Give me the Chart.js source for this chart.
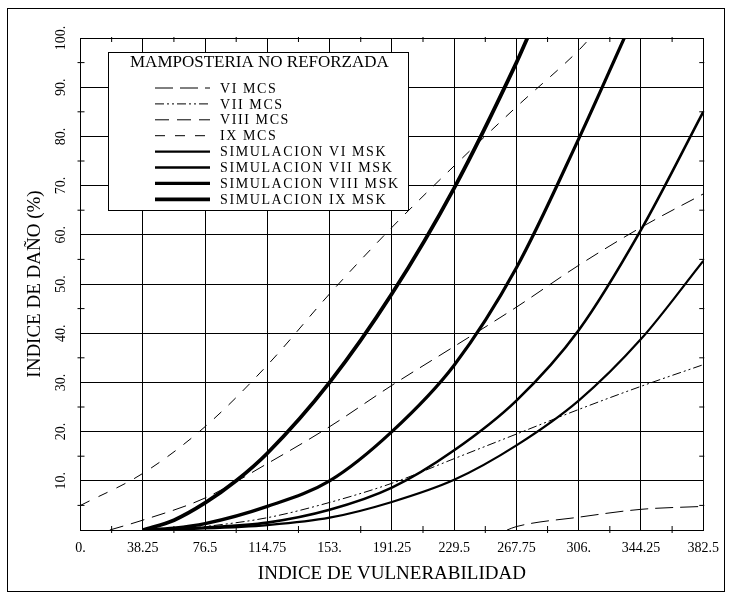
<!DOCTYPE html>
<html>
<head>
<meta charset="utf-8">
<script src="https://cdn.jsdelivr.net/npm/chart.js@4.4.1/dist/chart.umd.min.js"></script>
<style>
  html, body { margin: 0; padding: 0; background: #fff; }
  #wrap { width: 729px; height: 597px; }
</style>
</head>
<body>
<div id="wrap"><canvas id="damageChart" width="729" height="597"></canvas></div>
<script>
// Tick values and labels
const xTicks = [0, 38.25, 76.5, 114.75, 153, 191.25, 229.5, 267.75, 306, 344.25, 382.5];
const xTickLabels = ['0.', '38.25', '76.5', '114.75', '153.', '191.25', '229.5', '267.75', '306.', '344.25', '382.5'];
const yTicks = [10, 20, 30, 40, 50, 60, 70, 80, 90, 100];
const yTickLabels = ['10.', '20.', '30.', '40.', '50.', '60.', '70.', '80.', '90.', '100.'];

// MCS curves
const mcs6X = [262, 267.75, 306, 344.25, 382.5];
const mcs6Y = [0, 0.7, 2.6, 4.2, 4.8];
const mcs7X = [55, 76.5, 114.75, 153, 191.25, 229.5, 267.75, 306, 344.25, 382.5];
const mcs7Y = [0, 0.7, 2.5, 5.6, 9.5, 14.5, 19.5, 24.5, 29.2, 33.6];
const mcs8X = [18, 38.25, 76.5, 114.75, 153, 191.25, 229.5, 267.75, 306, 344.25, 382.5];
const mcs8Y = [0, 2, 6.5, 13.5, 21, 29.4, 37.3, 45.3, 53.8, 61.5, 68.3];
const mcs9X = [0, 38.25, 76.5, 114.75, 153, 191.25, 229.5, 267.75, 306, 313];
const mcs9Y = [5, 11.5, 21, 33.5, 48, 61.5, 74, 86, 97.5, 100];

// Simulation MSK curves
const simX = [38.25, 76.5, 114.75, 153, 191.25, 229.5, 267.75, 306, 344.25, 382.5];
const sim6Y = [0, 0.3, 1.0, 2.5, 5.7, 10.2, 17.2, 26.3, 38.8, 54.7];
const sim7Y = [0, 0.5, 1.5, 4.1, 8.6, 16.2, 26.3, 40.6, 61, 85];
const sim8X = [38.25, 57.4, 76.5, 114.75, 153, 191.25, 229.5, 267.75, 306, 334];
const sim8Y = [0, 0.4, 1.3, 4.8, 10, 20, 33.5, 53.3, 79.5, 100];
const sim9X = [38.25, 57.4, 76.5, 95.6, 114.75, 153, 191.25, 229.5, 267.75, 274.5];
const sim9Y = [0, 2, 5.5, 10, 15.6, 30, 48, 69.5, 95, 100];

function pts(xs, ys) {
    return xs.map((x, i) => ({ x: x, y: ys[i] }));
}

function line(label, xs, ys, width, dash) {
    return {
        label: label,
        data: pts(xs, ys),
        showLine: true,
        borderColor: '#000',
        borderWidth: width,
        borderDash: dash,
        pointRadius: 0,
        fill: false,
        cubicInterpolationMode: 'monotone'
    };
}

const serif = '"Liberation Serif", "DejaVu Serif", serif';

// white background, frame, rotated y labels, minor ticks and the boxed legend
const decorPlugin = {
    id: 'decor',
    beforeDraw(chart) {
        const ctx = chart.ctx;
        ctx.save();
        ctx.fillStyle = '#fff';
        ctx.fillRect(0, 0, chart.width, chart.height);
        ctx.restore();
    },
    afterDraw(chart) {
        const ctx = chart.ctx;
        const xs = chart.scales.x;
        const ys = chart.scales.y;
        const a = chart.chartArea;
        ctx.save();

        // outer frame
        ctx.strokeStyle = '#000';
        ctx.lineWidth = 1;
        ctx.strokeRect(7.5, 8.5, 717, 583);

        // minor ticks
        ctx.beginPath();
        for (let v = 5; v < 100; v += 10) {
            const py = ys.getPixelForValue(v);
            ctx.moveTo(a.left - 3, py); ctx.lineTo(a.left + 4, py);
            ctx.moveTo(a.right - 4, py); ctx.lineTo(a.right + 1, py);
        }
        for (let i = 0; i < xTicks.length - 1; i++) {
            const px = xs.getPixelForValue((xTicks[i] + xTicks[i + 1]) / 2);
            ctx.moveTo(px, a.bottom + 3); ctx.lineTo(px, a.bottom - 4);
            ctx.moveTo(px, a.top - 1); ctx.lineTo(px, a.top + 4);
        }
        ctx.stroke();

        // rotated y tick labels
        ctx.fillStyle = '#000';
        ctx.font = '14px ' + serif;
        ctx.textAlign = 'center';
        ctx.textBaseline = 'middle';
        yTicks.forEach((v, i) => {
            ctx.save();
            ctx.translate(61, ys.getPixelForValue(v));
            ctx.rotate(-Math.PI / 2);
            ctx.fillText(yTickLabels[i], 0, 0);
            ctx.restore();
        });

        // legend box
        const bx = 108.5, by = 52.5, bw = 300, bh = 158;
        ctx.fillStyle = '#fff';
        ctx.fillRect(bx, by, bw, bh);
        ctx.strokeRect(bx, by, bw, bh);
        ctx.fillStyle = '#000';
        ctx.font = '17px ' + serif;
        ctx.textAlign = 'left';
        ctx.fillText('MAMPOSTERIA NO REFORZADA', 130, 63);

        ctx.font = '14px ' + serif;
        ctx.letterSpacing = '1.6px';
        chart.data.datasets.forEach((ds, i) => {
            const ry = 88 + i * 15.9;
            ctx.beginPath();
            ctx.lineWidth = ds.borderWidth;
            ctx.setLineDash(ds.borderDash || []);
            ctx.moveTo(155, ry);
            ctx.lineTo(210, ry);
            ctx.stroke();
            ctx.setLineDash([]);
            ctx.fillText(ds.label, 220, ry + 1);
        });
        ctx.restore();
    }
};

const ctx = document.getElementById('damageChart').getContext('2d');
const damageChart = new Chart(ctx, {
    type: 'scatter',
    data: {
        datasets: [
            line('VI MCS', mcs6X, mcs6Y, 1, [18, 7]),
            line('VII MCS', mcs7X, mcs7Y, 1, [9, 3, 2, 3, 2, 3]),
            line('VIII MCS', mcs8X, mcs8Y, 1, [14, 8]),
            line('IX MCS', mcs9X, mcs9Y, 1, [10, 10]),
            line('SIMULACION VI MSK', simX, sim6Y, 2.2, []),
            line('SIMULACION VII MSK', simX, sim7Y, 2.6, []),
            line('SIMULACION VIII MSK', sim8X, sim8Y, 3.2, []),
            line('SIMULACION IX MSK', sim9X, sim9Y, 3.8, [])
        ]
    },
    options: {
        responsive: false,
        animation: false,
        layout: { padding: { left: 0, top: 38, right: 24, bottom: 0 } },
        plugins: {
            legend: { display: false },
            tooltip: { enabled: false }
        },
        scales: {
            x: {
                type: 'linear',
                min: 0,
                max: 382.5,
                afterBuildTicks: axis => { axis.ticks = xTicks.map(v => ({ value: v })); },
                afterFit: axis => { axis.height = 67; },
                ticks: {
                    autoSkip: false,
                    maxRotation: 0,
                    padding: 10,
                    color: '#000',
                    font: { family: serif, size: 14 },
                    callback: value => xTickLabels[xTicks.indexOf(value)]
                },
                grid: { color: '#000', lineWidth: 1, drawTicks: false },
                border: { color: '#000', width: 1 },
                title: {
                    display: true,
                    text: 'INDICE DE VULNERABILIDAD',
                    color: '#000',
                    font: { family: serif, size: 19 },
                    padding: { top: 0, bottom: 12 }
                }
            },
            y: {
                min: 0,
                max: 100,
                ticks: { display: false, stepSize: 10 },
                afterFit: axis => { axis.width = 80.5; },
                grid: { color: '#000', lineWidth: 1, drawTicks: false },
                border: { color: '#000', width: 1 },
                title: {
                    display: true,
                    text: 'INDICE DE DAÑO (%)',
                    color: '#000',
                    font: { family: serif, size: 19 },
                    padding: { top: 24, bottom: 0 }
                }
            }
        }
    },
    plugins: [decorPlugin]
});
</script>
</body>
</html>
